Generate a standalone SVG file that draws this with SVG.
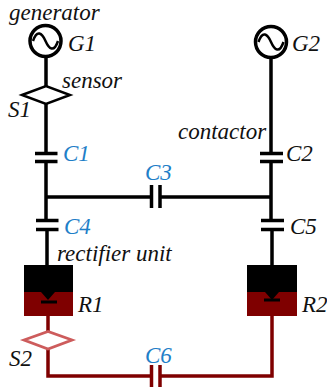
<svg xmlns="http://www.w3.org/2000/svg" width="327" height="387" viewBox="0 0 327 387">
<style>
text{font-family:"Liberation Serif","Times New Roman",serif;font-style:italic;font-size:23px;fill:#111}
.b{fill:#1f7fc8}
.w{fill:none;stroke:#000;stroke-width:3.5}
.r{fill:none;stroke:#7f0000;stroke-width:3.5}
.c{stroke:#000;stroke-width:3.5;fill:none}
.cr{stroke:#7f0000;stroke-width:3.5;fill:none}
.top{fill:#000}
.bot{fill:#7f0000}
</style>
<rect width="327" height="387" fill="#fff"/>
<g id="connectors">
<path class="w" d="M46 58V87M46 103V153M46 161V220M47 229V265M46 197H151M160 197H271M271 58V153M271 161V220M272 229V265"/>
<path class="r" d="M48 315V332M48 349V376H151M160 376H272V315"/>
</g>
<g id="G1"><circle cx="45.500" cy="41" r="15.500" fill="#fff" stroke="#000" stroke-width="3.500"/><path d="M33 41C37 29 42 33 45.500 41S54 53 58 41" fill="none" stroke="#000" stroke-width="2.500"/><text x="68" y="51">G1</text></g>
<g id="G2"><circle cx="271" cy="42" r="15.500" fill="#fff" stroke="#000" stroke-width="3.500"/><path d="M258.500 42C262.500 30 267.500 34 271 42S279.500 54 283.500 42" fill="none" stroke="#000" stroke-width="2.500"/><text x="292" y="51">G2</text></g>
<text x="9" y="20">generator</text>
<g id="S1"><path d="M22 95L46 86L70 95L46 104Z" fill="#fff" stroke="#000" stroke-width="2.500"/><text x="62" y="88">sensor</text><text x="8" y="117">S1</text></g>
<g id="C1"><path class="c" d="M35 153.500H57.500M35 161.500H57.500"/><text class="b" x="63" y="161">C1</text></g>
<g id="C2"><path class="c" d="M260 153.500H283M260 161.500H283"/><text x="286" y="161">C2</text><text x="178" y="139">contactor</text></g>
<g id="C3"><path class="c" d="M151.500 185V208M160 185V208"/><text class="b" x="145" y="180">C3</text></g>
<g id="C4"><path class="c" d="M36 220.500H58.500M36 229.500H58.500"/><text class="b" x="64" y="234">C4</text><text x="57" y="261">rectifier unit</text></g>
<g id="C5"><path class="c" d="M261 220.500H284M261 229.500H284"/><text x="290" y="234">C5</text></g>
<g id="R1"><rect class="top" x="24" y="265" width="49" height="27"/><rect class="bot" x="24" y="292" width="49" height="24"/><path d="M41 292H55L48 300Z" fill="#000"/><rect x="41" y="300.500" width="16" height="3"/><text x="78" y="312">R1</text></g>
<g id="R2"><rect class="top" x="247" y="265" width="50" height="27"/><rect class="bot" x="247" y="292" width="50" height="24"/><path d="M265 292H279L272 300Z" fill="#000"/><rect x="264" y="298.500" width="16" height="3"/><text x="302" y="312">R2</text></g>
<g id="S2"><path d="M24 340L48 331.500L72 340L48 349Z" fill="#fff" stroke="#cd5c5c" stroke-width="2.800"/><text x="9" y="366">S2</text></g>
<g id="C6"><path class="cr" d="M151.500 365V387M160 365V387"/><text class="b" x="145" y="363">C6</text></g>
</svg>
